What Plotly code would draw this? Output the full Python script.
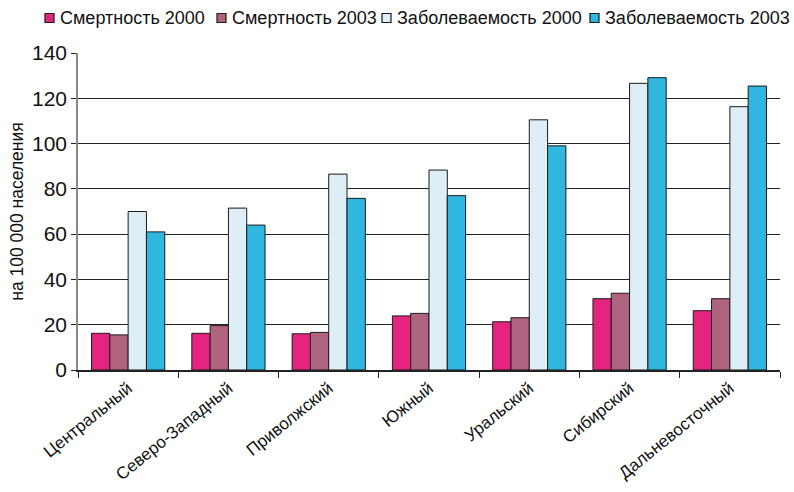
import plotly.graph_objects as go

regions = ["Центральный", "Северо-Западный", "Приволжский", "Южный",
           "Уральский", "Сибирский", "Дальневосточный"]
mort_2000 = [16.2, 16.2, 16.0, 23.9, 21.3, 31.5, 26.2]
mort_2003 = [15.5, 19.6, 16.6, 25.0, 23.1, 33.9, 31.5]
morb_2000 = [70.0, 71.5, 86.5, 88.3, 110.5, 126.6, 116.3]
morb_2003 = [61.0, 64.0, 75.8, 77.0, 99.0, 129.1, 125.4]

series = [
    ("Смертность 2000", mort_2000, "#E5247F"),
    ("Смертность 2003", mort_2003, "#B0637F"),
    ("Заболеваемость 2000", morb_2000, "#DDEEF7"),
    ("Заболеваемость 2003", morb_2003, "#2FB7E0"),
]

FONT = "Liberation Sans, Arial, sans-serif"
W, H = 794, 492
ML, MR, MT, MB = 78, 14, 53, 122
PW = W - ML - MR
PH = H - MT - MB

fig = go.Figure()
for name, vals, color in series:
    fig.add_trace(go.Bar(
        x=regions, y=vals, name=name,
        marker=dict(color=color, line=dict(color="#1a1a1a", width=1)),
    ))

# Compact legend row along the top edge
legend_box_left = [45, 217, 382, 590]
legend_y = 18
for (name, _, color), px in zip(series, legend_box_left):
    x0 = (px - ML) / PW
    x1 = (px + 9 - ML) / PW
    y0 = (H - MB - (legend_y + 4.5)) / PH
    y1 = (H - MB - (legend_y - 4.5)) / PH
    fig.add_shape(type="rect", xref="paper", yref="paper",
                  x0=x0, x1=x1, y0=y0, y1=y1,
                  fillcolor=color, line=dict(color="#1a1a1a", width=1.2))
    fig.add_annotation(xref="paper", yref="paper",
                       x=(px + 13 - ML) / PW, y=(H - MB - legend_y) / PH,
                       xanchor="left", yanchor="middle", showarrow=False,
                       text=name, font=dict(size=18, family=FONT, color="#111"))

fig.update_layout(
    width=W, height=H,
    margin=dict(l=ML, r=MR, t=MT, b=MB, autoexpand=False),
    paper_bgcolor="white", plot_bgcolor="white",
    barmode="group", bargap=0.27, bargroupgap=0,
    font=dict(family=FONT, color="#111"),
    showlegend=False,
)

fig.update_xaxes(
    showgrid=False, showline=True, linecolor="#222", linewidth=1.5,
    ticks="outside", tickson="boundaries", ticklen=6, tickcolor="#222",
    tickangle=-39, tickfont=dict(size=17, family=FONT), automargin=False,
)
fig.update_yaxes(
    range=[0, 140], dtick=20, showgrid=True, gridcolor="#222", gridwidth=1,
    showline=True, linecolor="#888", linewidth=1.5,
    ticks="outside", ticklen=5, tickcolor="#222",
    tickfont=dict(size=21, family=FONT),
    title=dict(text="на 100 000 населения", font=dict(size=17.5, family=FONT), standoff=4),
    zeroline=False, automargin=False,
)

fig.write_html("out.html")
